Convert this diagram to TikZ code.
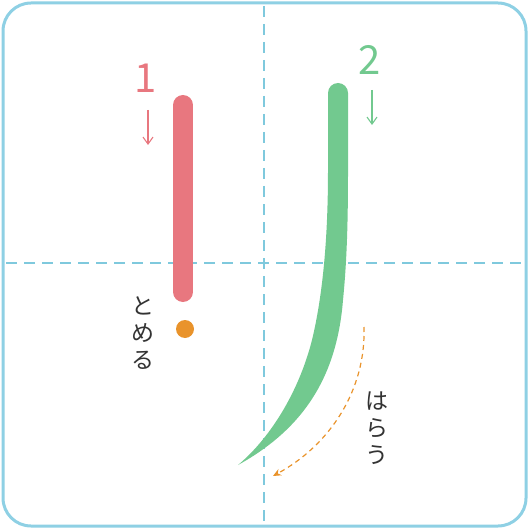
\documentclass[tikz,border=0pt]{standalone}
\usepackage{fontspec}
\setmainfont{Noto Sans CJK JP}
\usetikzlibrary{arrows.meta}
\definecolor{frameblue}{HTML}{8ED0E4}
\definecolor{guideblue}{HTML}{7FC9DD}
\definecolor{strokered}{HTML}{E8777F}
\definecolor{strokegreen}{HTML}{72C98F}
\definecolor{markorange}{HTML}{E9932B}
\definecolor{labelgray}{HTML}{333333}

\begin{document}
\begin{tikzpicture}[x=1pt,y=-1pt,
  guide/.style={guideblue,line width=1.3pt,dash pattern=on 11pt off 7pt},
  order/.style={font=\fontsize{40}{40}\selectfont},
  dirarrow/.style={line width=1.1pt,-{Straight Barb[length=7pt,width=10pt]}},
  kana/.style={labelgray,font=\fontsize{23}{27}\selectfont,align=center}]
  \useasboundingbox (0,0) rectangle (529,529);
  \draw[frameblue,line width=3pt,rounded corners=28pt] (3,3) rectangle (526,526);
  % guide lines
  \draw[guide] (264,6) -- (264,523);
  \draw[guide] (6,263) -- (523,263);
  % stroke 1
  \draw[strokered,line width=20pt,line cap=round] (183,105) -- (183,292);
  \node[order,strokered] (one) at (146,78) {1};
  \coordinate (onetop) at (148,110);
  \coordinate (onebot) at (148,145);
  \draw[dirarrow,strokered] (onetop) -- (onebot);
  \fill[markorange] (185,329) circle (9pt);
  \node[kana] (tomeru) at (143,333) {と\\め\\る};
  % stroke 2
  \fill[strokegreen] (328,93) arc[start angle=180,end angle=360,radius=10] -- (348,170)
    .. controls (348,220) and (347,260) .. (343,300)
    .. controls (337,375) and (305,428) .. (238,465)
    .. controls (268,440) and (298,395) .. (312,340)
    .. controls (324,290) and (328,230) .. (328,170) -- cycle;
  \node[order,strokegreen] (two) at (370,60) {2};
  \coordinate (twotop) at (372,90);
  \coordinate (twobot) at (372,125);
  \draw[dirarrow,strokegreen] (twotop) -- (twobot);
  \coordinate (haraistart) at (364,327);
  \coordinate (haraiend) at (273,476);
  \draw[markorange,line width=1.2pt,dash pattern=on 5pt off 4pt,-{Stealth[length=8pt,width=7pt]}]
    (haraistart) .. controls (366,390) and (330,445) .. (haraiend);
  \node[kana] (harau) at (377,428) {は\\ら\\う};
\end{tikzpicture}
\end{document}
